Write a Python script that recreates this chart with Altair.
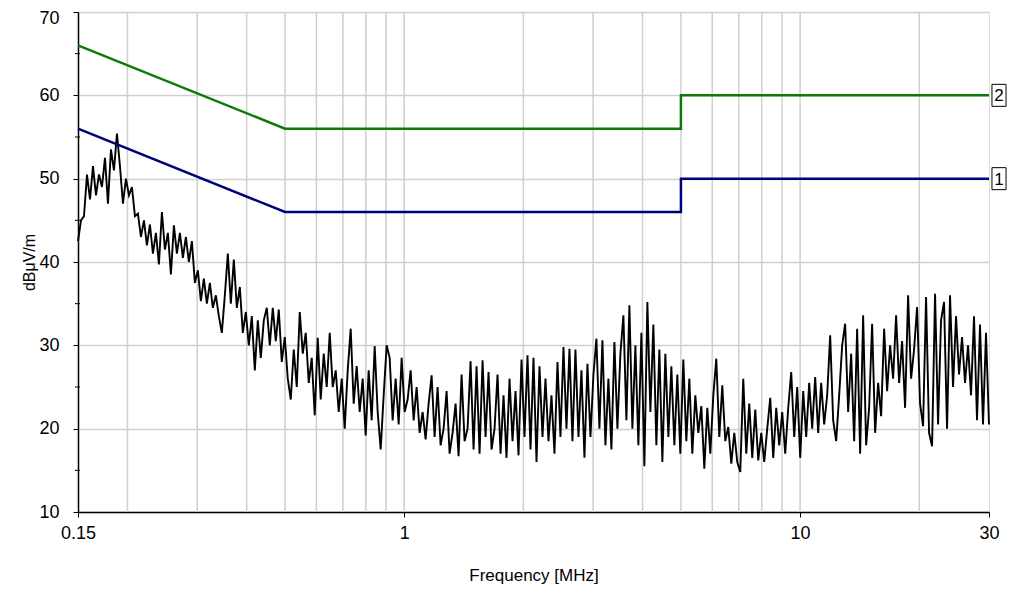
import altair as alt
import numpy as np
import pandas as pd

# ---- limit lines ----
limit_freq = [0.15, 0.5, 5.0, 5.0, 30.0]
limit_2 = [66, 56, 56, 60, 60]
limit_1 = [56, 46, 46, 50, 50]
limit_order = [0, 1, 2, 3, 4]

# ---- measured trace, read left to right (equally spaced on the log axis) ----
seg1 = [42.5, 45, 45.5, 50.5, 47.5, 51.5, 48, 50.5, 49, 52.5, 47, 53.5, 51, 55.4, 51.5, 47,
        50, 48, 49, 45.5, 45.8, 43, 45, 42, 44.5, 41, 43.5, 39.7, 46, 41.5, 43.5, 38.5,
        44.4, 41, 43.5, 40.5, 43, 40, 42.5, 37.5, 39, 35.3, 38, 35, 37.5, 34.5, 36, 33.5,
        31.5, 36, 41, 35]
seg2 = [40.3, 34.5, 37, 31.5, 34, 30, 33.5, 27, 33, 28.5, 33, 34.5, 30, 34.5, 30.5, 34.3,
        28, 31, 26, 23.5, 29.5, 25, 34, 29, 31.5, 25.5, 28.5, 21.6, 30.9, 23.5, 29, 25,
        31.5, 25, 27, 22, 26, 20, 27, 32, 23, 27.5, 22, 26, 19.2, 27, 21, 29.9,
        22, 17.5, 24, 30]
seg3 = [28.5, 21, 26, 20.5, 28.5, 22, 23.5, 27, 21, 25, 19.5, 22, 18.7, 23, 26.4, 19,
        25, 18, 20, 24.5, 17, 19.5, 23, 16.7, 26.5, 18.5, 20, 28.1, 17.5, 27.5, 17, 28.2,
        19, 26.8, 17.5, 20, 26.5, 17, 24, 16.5, 26, 18.5, 24.5, 16.8, 28.3, 19, 28.8, 17.5,
        28.5, 16, 27.5, 19]
seg4 = [26, 18.5, 24, 17, 28, 19, 29.8, 20, 29.6, 18.5, 29.5, 19, 27, 16.5, 27.8, 19,
        26.5, 30.8, 20, 30.6, 18, 26, 17.5, 30.4, 20, 29, 33.6, 21, 34.8, 20, 30, 18,
        31.5, 15.5, 35.2, 22, 32.5, 18, 29.5, 16, 29, 19, 27.5, 18, 26.5, 17, 28.3, 18.5,
        26, 17, 24, 19.5]
seg5 = [22.7, 15.2, 22.5, 17, 24, 28.4, 19, 25.2, 18.5, 20.2, 15.8, 19.5, 16, 14.8, 26, 17,
        23, 16.5, 22.3, 16.2, 19.5, 16, 20, 23.7, 16.5, 22.5, 18, 22, 17, 22.5, 26.8, 19,
        25, 16.5, 24.5, 19, 25.5, 20, 26.2, 19.5, 25.5, 20.5, 24, 31.2, 21, 18.5, 24, 30,
        32.6, 22, 29, 18.5]
seg6 = [32, 17, 33.6, 18, 22.5, 32.6, 19.5, 25.5, 21.5, 32, 24.5, 30, 26, 33.6, 25.5, 30.5,
        22.5, 36, 26, 29.5, 34.6, 23, 20.3, 35.8, 19.5, 17.9, 36.2, 20.5, 33, 35.2, 20, 36,
        25, 33.5, 26.5, 31, 25.5, 30, 24, 33.5, 21, 32.5, 20.5, 31.5, 20.5]
trace_values = seg1 + seg2 + seg3 + seg4 + seg5 + seg6

# ---- axis / grid values ----
grid_freq = [0.2, 0.3, 0.4, 0.5, 0.6, 0.7, 0.8, 0.9, 1, 2, 3, 4, 5, 6, 7, 8, 9, 10, 20]
x_label_values = [0.15, 1, 10, 30]
y_major = [10, 20, 30, 40, 50, 60, 70]
y_minor = [15, 25, 35, 45, 55, 65]
box_labels = ["2", "1"]
box_levels = [60, 50]

trace_freq = np.geomspace(0.15, 30, len(trace_values))
trace_df = pd.DataFrame({"f": trace_freq, "v": trace_values, "i": range(len(trace_values))})
lim_df = pd.DataFrame({
    "f": limit_freq * 2,
    "v": limit_2 + limit_1,
    "o": limit_order * 2,
    "name": ["2"] * 5 + ["1"] * 5,
})
grid_df = pd.DataFrame({"f": grid_freq})
minor_df = pd.DataFrame({"v": y_minor})
box_df = pd.DataFrame({"f": [30, 30], "v": box_levels, "t": box_labels})

xs = alt.Scale(type="log", domain=[0.15, 30], nice=False)
ys = alt.Scale(domain=[10, 70], nice=False)

FONT = "Liberation Sans"

x_axis = alt.Axis(values=x_label_values, format="~g", grid=False, title="Frequency [MHz]",
                  labelFontSize=18, titleFontSize=17, labelFont=FONT, titleFont=FONT,
                  titleFontWeight="normal", labelColor="#000", titleColor="#000",
                  domainColor="#000", domainWidth=1.5, tickColor="#000", tickSize=5,
                  labelPadding=7, titlePadding=25, labelFlush=False)
y_axis = alt.Axis(values=y_major, grid=True, gridColor="#cfcfcf", gridWidth=1.5,
                  title="dBμV/m", labelFontSize=18, titleFontSize=16, labelFont=FONT,
                  titleFont=FONT, titleFontWeight="normal", labelColor="#000",
                  titleColor="#000", domainColor="#000", domainWidth=1.5,
                  tickColor="#000", tickSize=5, labelPadding=14, titlePadding=1,
                  labelOffset={"condition": {"test": "datum.value >= 70", "value": 6},
                               "value": 0})

grid = alt.Chart(grid_df).mark_rule(color="#cfcfcf", strokeWidth=1.5).encode(
    x=alt.X("f:Q", scale=xs, axis=x_axis)
)
minor = alt.Chart(minor_df).mark_rule(color="#000", strokeWidth=1).encode(
    y=alt.Y("v:Q", scale=ys, axis=y_axis),
    x=alt.value(-3), x2=alt.value(2)
)
trace = alt.Chart(trace_df).mark_line(color="#000", strokeWidth=1.9).encode(
    x=alt.X("f:Q", scale=xs),
    y=alt.Y("v:Q", scale=ys),
    order="i:Q",
)
limits = alt.Chart(lim_df).mark_line(strokeWidth=2.5).encode(
    x=alt.X("f:Q", scale=xs),
    y=alt.Y("v:Q", scale=ys),
    order="o:Q",
    color=alt.Color("name:N", scale=alt.Scale(domain=["2", "1"], range=["#0b7a0b", "#00007a"]),
                    legend=None),
    detail="name:N",
)
boxes = alt.Chart(box_df).mark_point(
    shape="M-0.64,-1L0.64,-1L0.64,1L-0.64,1Z", size=484, filled=True, fill="white",
    stroke="#000", strokeWidth=1, opacity=1, xOffset=10
).encode(x=alt.X("f:Q", scale=xs), y=alt.Y("v:Q", scale=ys))
box_text = alt.Chart(box_df).mark_text(
    font=FONT, fontSize=17, color="#000", dx=10, dy=1, align="center", baseline="middle"
).encode(x=alt.X("f:Q", scale=xs), y=alt.Y("v:Q", scale=ys), text="t:N")

chart = alt.layer(grid, minor, trace, limits, boxes, box_text).properties(
    width=911, height=500,
    autosize=alt.AutoSizeParams(type="none"),
    padding={"left": 70, "top": 4, "right": 18, "bottom": 74},
).configure_view(stroke="#333", strokeWidth=1.5).configure(background="white")

chart.save("out.html", embed_options={"renderer": "svg", "actions": False})
